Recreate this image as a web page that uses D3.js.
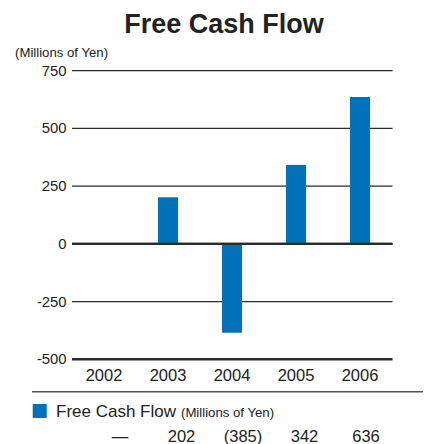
<!DOCTYPE html>
<html><head><meta charset="utf-8">
<script src="https://cdn.jsdelivr.net/npm/d3@7"></script>
<style>body{margin:0;background:#fff}svg{display:block}</style>
</head><body>
<svg id="c" width="428" height="444"></svg>
<script>
const years = ["2002","2003","2004","2005","2006"];
const fcf = [null, 202, -385, 342, 636];
const fcfLabels = ["—","202","(385)","342","636"];
const yTicks = [750, 500, 250, 0, -250, -500];
const title = "Free Cash Flow";
const unit = "(Millions of Yen)";
const legendName = "Free Cash Flow";

const blue = "#0072BC";
const font = "'Liberation Sans', Arial, Helvetica, sans-serif";
const svg = d3.select("#c");

const x = d3.scaleBand().domain(years).range([72, 392]).padding(0);
const y = d3.scaleLinear().domain([-500, 750]).range([359.3, 70.7]);
const tx = d3.scaleBand().domain(years).range([89.25, 396.75]);

svg.append("text").attr("x", 224).attr("y", 33).attr("text-anchor", "middle")
  .attr("font-family", font).attr("font-weight", "bold").attr("font-size", 27)
  .attr("fill", "#222").text(title);

svg.append("text").attr("x", 15).attr("y", 57).attr("font-family", font)
  .attr("font-size", 13.2).attr("fill", "#222").text(unit);

// gridlines
svg.append("g").selectAll("line").data(yTicks).join("line")
  .attr("x1", 72).attr("x2", 392.5)
  .attr("y1", d => y(d)).attr("y2", d => y(d))
  .attr("stroke", "#2a2a2a")
  .attr("stroke-width", d => (d === 0 || d === -500) ? 2.4 : 1.2);

svg.append("g").selectAll("text").data(yTicks).join("text")
  .attr("x", 66.5).attr("y", d => y(d) + 5).attr("text-anchor", "end")
  .attr("font-family", font).attr("font-size", 14.8).attr("fill", "#222")
  .text(d => d);

const bw = x.bandwidth() * 0.3125;
svg.append("g").selectAll("rect").data(years.map((yr, i) => ({yr, v: fcf[i]})).filter(d => d.v !== null))
  .join("rect")
  .attr("x", d => x(d.yr) + x.bandwidth() / 2 - bw / 2)
  .attr("width", bw)
  .attr("y", d => y(Math.max(0, d.v)))
  .attr("height", d => Math.abs(y(d.v) - y(0)))
  .attr("fill", blue);

// redraw zero line on top
svg.append("line").attr("x1", 72).attr("x2", 392.5).attr("y1", y(0)).attr("y2", y(0))
  .attr("stroke", "#2a2a2a").attr("stroke-width", 2.4);

svg.append("g").selectAll("text").data(years).join("text")
  .attr("x", d => x(d) + x.bandwidth() / 2).attr("y", 380.5).attr("text-anchor", "middle")
  .attr("font-family", font).attr("font-size", 16.5).attr("fill", "#222").text(d => d);

svg.append("line").attr("x1", 32).attr("x2", 423).attr("y1", 391.8).attr("y2", 391.8)
  .attr("stroke", "#555").attr("stroke-width", 1.4);

svg.append("rect").attr("x", 32.7).attr("y", 404).attr("width", 14).attr("height", 14).attr("fill", blue);
const lt = svg.append("text").attr("x", 56).attr("y", 416.5).attr("font-family", font).attr("fill", "#222");
lt.append("tspan").attr("font-size", 17).text(legendName);
lt.append("tspan").attr("font-size", 13.2).attr("dx", 5).text(unit);

svg.append("g").selectAll("text").data(years).join("text")
  .attr("x", d => tx(d) + tx.bandwidth() / 2).attr("y", 441.5).attr("text-anchor", "middle")
  .attr("font-family", font).attr("font-size", 16.5).attr("fill", "#222")
  .text((d, i) => fcfLabels[i]);
</script>
</body></html>
